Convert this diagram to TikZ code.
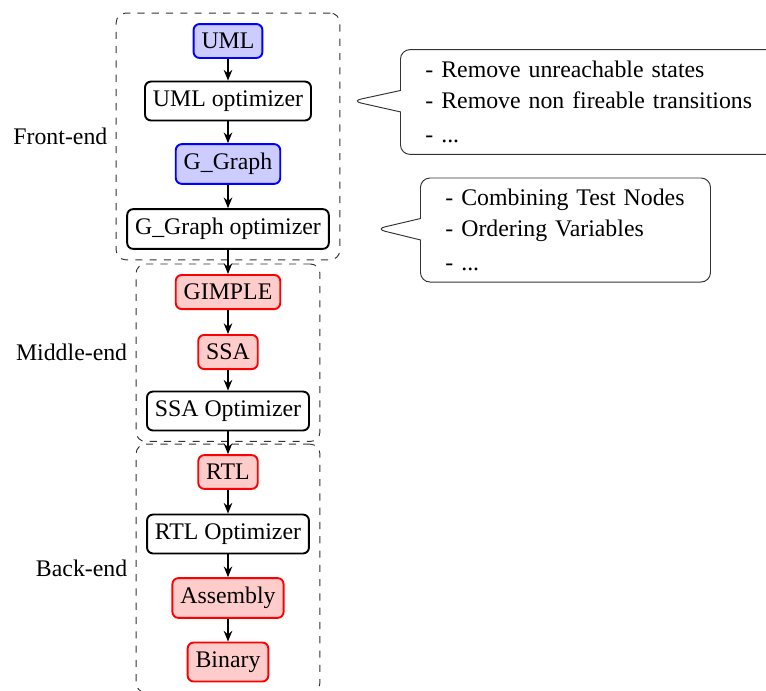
\documentclass[tikz,border=0pt]{standalone}
\usepackage{fontspec}
\setmainfont{Liberation Serif}
\usetikzlibrary{shapes.callouts,fit,arrows.meta,calc}

\begin{document}
\begin{tikzpicture}[x=0.42pt,y=-0.42pt,
  font=\fontsize{10}{12}\selectfont,
  stage/.style={draw, thick, rounded corners=2.5pt, inner ysep=3.8pt},
  front/.style={stage, draw=blue, fill=blue!20},
  ir/.style={stage, draw=red, fill=red!20},
  opt/.style={stage, draw=black, fill=white},
  flow/.style={-{Stealth[length=4.5pt,width=3.6pt]}, semithick},
  phase/.style={draw=black!80, dashed, rounded corners=4pt, inner xsep=4.2pt, inner ysep=4.2pt},
  phaselabel/.style={anchor=east},
  note/.style={rectangle callout, draw=black!80, rounded corners=4pt, align=left,
    inner xsep=10.5pt, callout pointer width=9pt, anchor=west}
]
\clip (0,0) rectangle (766,690);

% compiler pipeline
\node[front] (uml)  at (228,41)  {UML};
\node[opt]   (uopt) at (228,101) {UML optimizer};
\node[front] (gg)   at (228,164) {G\_Graph};
\node[opt]   (gopt) at (228,229) {G\_Graph optimizer};
\node[ir]    (gim)  at (228,292) {GIMPLE};
\node[ir]    (ssa)  at (228,352) {SSA};
\node[opt]   (sopt) at (228,411) {SSA Optimizer};
\node[ir]    (rtl)  at (228,472) {RTL};
\node[opt]   (ropt) at (228,534) {RTL Optimizer};
\node[ir]    (asm)  at (228,598) {Assembly};
\node[ir]    (bin)  at (228,662) {Binary};

% compiler phases
\node[phase, fit=(uml)(gopt)]       (fe) {};
\node[phase, fit=(gim)(sopt)]       (me) {};
\node[phase, fit=(rtl)(ropt)(bin)]  (be) {};
\node[phaselabel] at (fe.west) {Front-end};
\node[phaselabel] at (me.west) {Middle-end};
\node[phaselabel] at (be.west) {Back-end};

% flow between stages
\draw[flow] (uml)  -- (uopt);
\draw[flow] (uopt) -- (gg);
\draw[flow] (gg)   -- (gopt);
\draw[flow] (gopt) -- (gim);
\draw[flow] (gim)  -- (ssa);
\draw[flow] (ssa)  -- (sopt);
\draw[flow] (sopt) -- (rtl);
\draw[flow] (rtl)  -- (ropt);
\draw[flow] (ropt) -- (asm);
\draw[flow] (asm)  -- (bin);

% optimizer notes
\coordinate (tip1) at ($(uopt.east)+(40,0)$);
\coordinate (tip2) at ($(gopt.east)+(46,0)$);
\node[note, text width=145pt, minimum height=44pt, callout absolute pointer=(tip1)]
  (n1) at (400,102) {- Remove unreachable states\\[1pt]- Remove non fireable transitions\\[2pt]- ...};
\node[note, text width=100.8pt, minimum height=43.7pt, callout absolute pointer=(tip2)]
  (n2) at (420,230) {- Combining Test Nodes\\[1pt]- Ordering Variables\\[2pt]- ...};
\end{tikzpicture}
\end{document}
